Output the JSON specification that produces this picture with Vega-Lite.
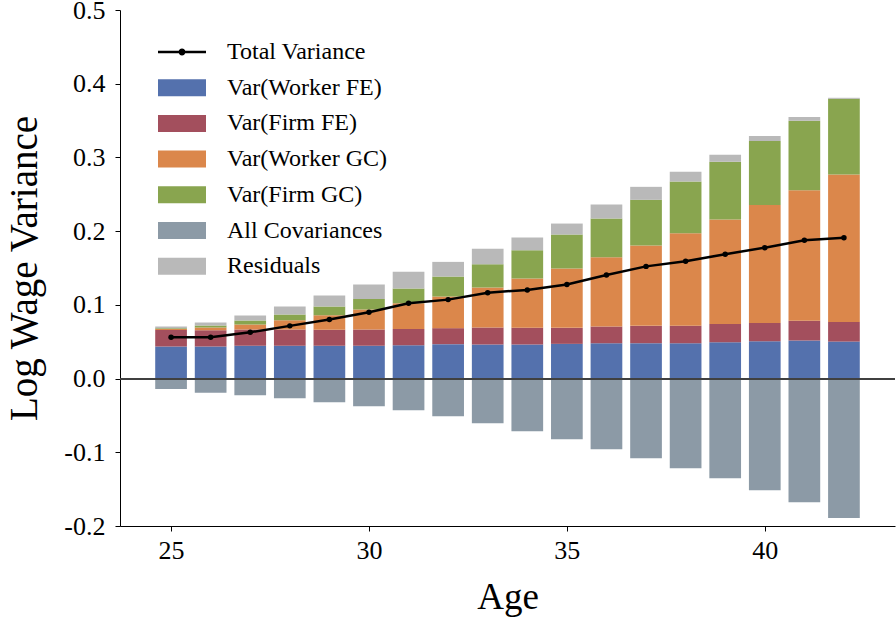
{
  "$schema": "https://vega.github.io/schema/vega-lite/v6.json",
  "width": 775,
  "height": 516,
  "autosize": {"type": "none"},
  "padding": {"left": 120, "top": 10, "right": 1, "bottom": 96},
  "background": "white",
  "config": {
    "view": {"stroke": null},
    "font": "Liberation Serif",
    "axis": {
      "grid": false,
      "domainColor": "black",
      "domainWidth": 1,
      "tickColor": "black",
      "tickWidth": 1,
      "tickSize": 5,
      "labelFont": "Liberation Serif",
      "labelFontSize": 26,
      "labelColor": "black",
      "titleFont": "Liberation Serif",
      "titleFontSize": 37,
      "titleFontWeight": "normal",
      "titleColor": "black"
    },
    "legend": {"labelFont": "Liberation Serif", "labelLimit": 0}
  },
  "datasets": {
    "parts": [
      {"age":25,"component":"Var(Worker FE)","value":0.0434},{"age":25,"component":"Var(Firm FE)","value":0.0224},{"age":25,"component":"Var(Worker GC)","value":0.0014},{"age":25,"component":"Var(Firm GC)","value":0.0010},{"age":25,"component":"All Covariances","value":-0.0140},{"age":25,"component":"Residuals","value":0.0023},
      {"age":26,"component":"Var(Worker FE)","value":0.0434},{"age":26,"component":"Var(Firm FE)","value":0.0222},{"age":26,"component":"Var(Worker GC)","value":0.0036},{"age":26,"component":"Var(Firm GC)","value":0.0027},{"age":26,"component":"All Covariances","value":-0.0194},{"age":26,"component":"Residuals","value":0.0041},
      {"age":27,"component":"Var(Worker FE)","value":0.0444},{"age":27,"component":"Var(Firm FE)","value":0.0221},{"age":27,"component":"Var(Worker GC)","value":0.0068},{"age":27,"component":"Var(Firm GC)","value":0.0054},{"age":27,"component":"All Covariances","value":-0.0226},{"age":27,"component":"Residuals","value":0.0068},
      {"age":28,"component":"Var(Worker FE)","value":0.0444},{"age":28,"component":"Var(Firm FE)","value":0.0221},{"age":28,"component":"Var(Worker GC)","value":0.0127},{"age":28,"component":"Var(Firm GC)","value":0.0077},{"age":28,"component":"All Covariances","value":-0.0267},{"age":28,"component":"Residuals","value":0.0109},
      {"age":29,"component":"Var(Worker FE)","value":0.0444},{"age":29,"component":"Var(Firm FE)","value":0.0217},{"age":29,"component":"Var(Worker GC)","value":0.0198},{"age":29,"component":"Var(Firm GC)","value":0.0118},{"age":29,"component":"All Covariances","value":-0.0321},{"age":29,"component":"Residuals","value":0.0149},
      {"age":30,"component":"Var(Worker FE)","value":0.0444},{"age":30,"component":"Var(Firm FE)","value":0.0221},{"age":30,"component":"Var(Worker GC)","value":0.0271},{"age":30,"component":"Var(Firm GC)","value":0.0145},{"age":30,"component":"All Covariances","value":-0.0375},{"age":30,"component":"Residuals","value":0.0194},
      {"age":31,"component":"Var(Worker FE)","value":0.0453},{"age":31,"component":"Var(Firm FE)","value":0.0221},{"age":31,"component":"Var(Worker GC)","value":0.0349},{"age":31,"component":"Var(Firm GC)","value":0.0198},{"age":31,"component":"All Covariances","value":-0.0430},{"age":31,"component":"Residuals","value":0.0227},
      {"age":32,"component":"Var(Worker FE)","value":0.0467},{"age":32,"component":"Var(Firm FE)","value":0.0217},{"age":32,"component":"Var(Worker GC)","value":0.0429},{"age":32,"component":"Var(Firm GC)","value":0.0271},{"age":32,"component":"All Covariances","value":-0.0511},{"age":32,"component":"Residuals","value":0.0199},
      {"age":33,"component":"Var(Worker FE)","value":0.0461},{"age":33,"component":"Var(Firm FE)","value":0.0231},{"age":33,"component":"Var(Worker GC)","value":0.0543},{"age":33,"component":"Var(Firm GC)","value":0.0317},{"age":33,"component":"All Covariances","value":-0.0606},{"age":33,"component":"Residuals","value":0.0208},
      {"age":34,"component":"Var(Worker FE)","value":0.0461},{"age":34,"component":"Var(Firm FE)","value":0.0227},{"age":34,"component":"Var(Worker GC)","value":0.0669},{"age":34,"component":"Var(Firm GC)","value":0.0384},{"age":34,"component":"All Covariances","value":-0.0715},{"age":34,"component":"Residuals","value":0.0172},
      {"age":35,"component":"Var(Worker FE)","value":0.0471},{"age":35,"component":"Var(Firm FE)","value":0.0217},{"age":35,"component":"Var(Worker GC)","value":0.0805},{"age":35,"component":"Var(Firm GC)","value":0.0461},{"age":35,"component":"All Covariances","value":-0.0823},{"age":35,"component":"Residuals","value":0.0149},
      {"age":36,"component":"Var(Worker FE)","value":0.0479},{"age":36,"component":"Var(Firm FE)","value":0.0227},{"age":36,"component":"Var(Worker GC)","value":0.0940},{"age":36,"component":"Var(Firm GC)","value":0.0525},{"age":36,"component":"All Covariances","value":-0.0959},{"age":36,"component":"Residuals","value":0.0190},
      {"age":37,"component":"Var(Worker FE)","value":0.0480},{"age":37,"component":"Var(Firm FE)","value":0.0235},{"age":37,"component":"Var(Worker GC)","value":0.1090},{"age":37,"component":"Var(Firm GC)","value":0.0620},{"age":37,"component":"All Covariances","value":-0.1081},{"age":37,"component":"Residuals","value":0.0176},
      {"age":38,"component":"Var(Worker FE)","value":0.0480},{"age":38,"component":"Var(Firm FE)","value":0.0235},{"age":38,"component":"Var(Worker GC)","value":0.1258},{"age":38,"component":"Var(Firm GC)","value":0.0700},{"age":38,"component":"All Covariances","value":-0.1217},{"age":38,"component":"Residuals","value":0.0132},
      {"age":39,"component":"Var(Worker FE)","value":0.0494},{"age":39,"component":"Var(Firm FE)","value":0.0248},{"age":39,"component":"Var(Worker GC)","value":0.1415},{"age":39,"component":"Var(Firm GC)","value":0.0783},{"age":39,"component":"All Covariances","value":-0.1352},{"age":39,"component":"Residuals","value":0.0095},
      {"age":40,"component":"Var(Worker FE)","value":0.0507},{"age":40,"component":"Var(Firm FE)","value":0.0248},{"age":40,"component":"Var(Worker GC)","value":0.1601},{"age":40,"component":"Var(Firm GC)","value":0.0868},{"age":40,"component":"All Covariances","value":-0.1515},{"age":40,"component":"Residuals","value":0.0068},
      {"age":41,"component":"Var(Worker FE)","value":0.0516},{"age":41,"component":"Var(Firm FE)","value":0.0267},{"age":41,"component":"Var(Worker GC)","value":0.1773},{"age":41,"component":"Var(Firm GC)","value":0.0940},{"age":41,"component":"All Covariances","value":-0.1678},{"age":41,"component":"Residuals","value":0.0054},
      {"age":42,"component":"Var(Worker FE)","value":0.0502},{"age":42,"component":"Var(Firm FE)","value":0.0267},{"age":42,"component":"Var(Worker GC)","value":0.1999},{"age":42,"component":"Var(Firm GC)","value":0.1027},{"age":42,"component":"All Covariances","value":-0.1890},{"age":42,"component":"Residuals","value":0.0014}
    ],
    "total": [
      {"age":25,"total":0.0560},{"age":26,"total":0.0560},{"age":27,"total":0.0628},{"age":28,"total":0.0715},{"age":29,"total":0.0800},{"age":30,"total":0.0900},{"age":31,"total":0.1023},{"age":32,"total":0.1071},{"age":33,"total":0.1165},{"age":34,"total":0.1203},{"age":35,"total":0.1275},{"age":36,"total":0.1405},{"age":37,"total":0.1522},{"age":38,"total":0.1593},{"age":39,"total":0.1687},{"age":40,"total":0.1775},{"age":41,"total":0.1875},{"age":42,"total":0.1910}
    ]
  },
  "layer": [
    {
      "data": {"name": "parts"},
      "transform": [
        {"calculate": "indexof(['Var(Worker FE)','Var(Firm FE)','Var(Worker GC)','Var(Firm GC)','All Covariances','Residuals'], datum.component)", "as": "k"}
      ],
      "mark": {"type": "bar", "size": 31.7},
      "encoding": {
        "x": {
          "field": "age", "type": "quantitative",
          "scale": {"domain": [23.71, 43.29], "nice": false, "zero": false, "padding": 0},
          "axis": {"values": [25, 30, 35, 40], "title": "Age", "labelFont": "Liberation Serif", "labelPadding": 6, "titleBaseline": "alphabetic", "titleY": 82}
        },
        "y": {
          "field": "value", "type": "quantitative", "stack": "zero",
          "scale": {"domain": [-0.2, 0.5], "nice": false, "zero": false, "padding": 0},
          "axis": {
            "values": [-0.2, -0.1, 0, 0.1, 0.2, 0.3, 0.4, 0.5],
            "labelExpr": "replace(format(datum.value, '.1f'), '\u2212', '-')",
            "labelFont": "Liberation Serif",
            "labelPadding": 10,
            "title": "Log Wage Variance",
            "titleFontSize": 39,
            "titleBaseline": "alphabetic",
            "titleX": -84,
            "titleY": 258,
            "titleAlign": "center",
            "titleAngle": 270
          }
        },
        "color": {
          "field": "component", "type": "nominal",
          "scale": {
            "domain": ["Total Variance", "Var(Worker FE)", "Var(Firm FE)", "Var(Worker GC)", "Var(Firm GC)", "All Covariances", "Residuals"],
            "range": ["#000000", "#5471ad", "#a34f5d", "#db874b", "#89a54f", "#8c9aa6", "#b9b9b9"]
          },
          "legend": {
            "title": null,
            "orient": "none",
            "legendX": 50,
            "legendY": 30,
            "padding": 0,
            "symbolSize": 576,
            "symbolType": "M-2,-0.71H2V0.71H-2Z",
            "labelFont": "Liberation Serif",
            "labelFontSize": 24,
            "labelLimit": 0,
            "labelColor": "black",
            "labelOffset": 33,
            "rowPadding": 11.7,
            "encode": {
              "symbols": {
                "update": {
                  "shape": {"signal": "datum.value === 'Total Variance' ? 'M-2,0H2M0.18,0A0.18,0.18,0,1,1,-0.18,0A0.18,0.18,0,1,1,0.18,0Z' : 'M-2,-0.71H2V0.71H-2Z'"},
                  "fill": {"scale": "color", "field": "value"},
                  "stroke": {"scale": "color", "field": "value"},
                  "strokeWidth": {"signal": "datum.value === 'Total Variance' ? 2.5 : 0"},
                  "opacity": {"value": 1}
                }
              },
              "labels": {
                "update": {"font": {"value": "Liberation Serif"}}
              }
            }
          }
        },
        "order": {"field": "k", "type": "quantitative"}
      }
    },
    {
      "data": {"name": "total"},
      "mark": {"type": "rule", "color": "#404040", "strokeWidth": 1.2},
      "encoding": {"y": {"datum": 0, "type": "quantitative"}}
    },
    {
      "data": {"name": "total"},
      "mark": {"type": "line", "strokeWidth": 2.5, "point": {"filled": true, "size": 30}},
      "encoding": {
        "x": {"field": "age", "type": "quantitative"},
        "y": {"field": "total", "type": "quantitative"},
        "color": {"datum": "Total Variance"}
      }
    }
  ]
}
